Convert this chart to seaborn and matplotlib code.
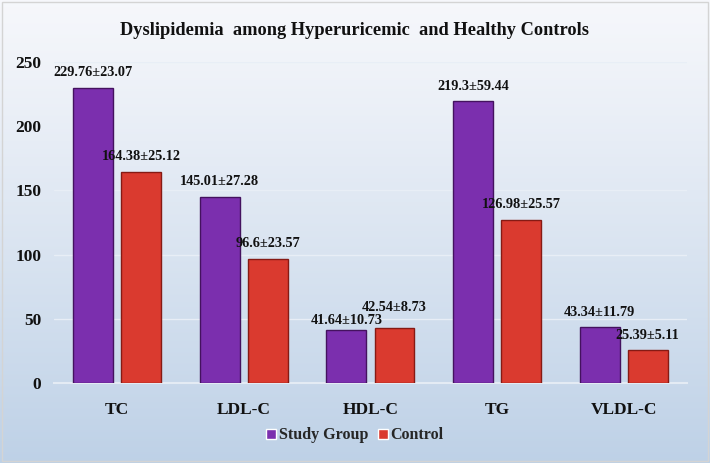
import numpy as np
import pandas as pd
import seaborn as sns
import matplotlib.pyplot as plt
from matplotlib.patches import Rectangle

# data
categories = ['TC', 'LDL-C', 'HDL-C', 'TG', 'VLDL-C']
study_mean = [229.76, 145.01, 41.64, 219.3, 43.34]
study_sd = [23.07, 27.28, 10.73, 59.44, 11.79]
control_mean = [164.38, 96.6, 42.54, 126.98, 25.39]
control_sd = [25.12, 23.57, 8.73, 25.57, 5.11]
groups = ['Study Group', 'Control']
y_ticks = [0, 50, 100, 150, 200, 250]

df = pd.DataFrame({
    'lipid': categories * 2,
    'group': [groups[0]] * 5 + [groups[1]] * 5,
    'mean': study_mean + control_mean,
    'sd': study_sd + control_sd,
})

sns.set_style('white')
plt.rcParams['font.family'] = ['Liberation Serif', 'DejaVu Serif']
plt.rcParams['font.weight'] = 'bold'

fig = plt.figure(figsize=(7.1, 4.63), dpi=100)

# gradient background for the whole chart area
bg = fig.add_axes([0, 0, 1, 1], zorder=-10)
grad = np.linspace(0, 1, 256).reshape(-1, 1)
top_c = np.array([0.965, 0.970, 0.985])
bot_c = np.array([0.745, 0.820, 0.905])
img = top_c + (bot_c - top_c) * grad[..., None] ** 1.1
img = np.repeat(img, 4, axis=1)
bg.imshow(img, aspect='auto', extent=[0, 1, 0, 1])
bg.axis('off')
fig.patches.append(Rectangle((0.003, 0.005), 0.994, 0.99, transform=fig.transFigure,
                             fill=False, edgecolor='#d4d4d4', linewidth=1.0))

ax = fig.add_axes([0.076, 0.1728, 0.8916, 0.6934])
ax.set_facecolor('none')

sns.barplot(data=df, x='lipid', y='mean', hue='group', hue_order=groups,
            palette=['#7b2fae', '#da3a2f'], saturation=1, width=0.76, gap=0.17,
            ax=ax, zorder=3)

# darker rims to hint at the bevelled bars
for cont, rim in zip(ax.containers, ['#44125f', '#861a14']):
    for bar in cont:
        bar.set_edgecolor(rim)
        bar.set_linewidth(1.0)

# value labels: "mean±sd" above each bar
extra_lift = {(0, 2): -6, (1, 2): 6}
for gi, (cont, means, sds) in enumerate(zip(ax.containers, [study_mean, control_mean],
                                             [study_sd, control_sd])):
    for ci, bar in enumerate(cont):
        lift = 15 + extra_lift.get((gi, ci), 0)
        ax.annotate(f'{means[ci]}±{sds[ci]}',
                    (bar.get_x() + bar.get_width() / 2, bar.get_height()),
                    xytext=(0, lift * 0.72), textcoords='offset points',
                    ha='center', va='center', fontsize=10.3, fontweight='bold',
                    color='#111111', zorder=5)

ax.set_ylim(0, 250)
ax.set_xlim(-0.5, 4.5)
ax.set_yticks(y_ticks)
ax.yaxis.grid(True, color='#e8eef6', linewidth=1.0, zorder=0)
ax.set_axisbelow(True)
for s in ['top', 'right', 'left']:
    ax.spines[s].set_visible(False)
ax.spines['bottom'].set_color('#e4ebf4')
ax.spines['bottom'].set_linewidth(1.5)
ax.tick_params(axis='both', length=0)
ax.tick_params(axis='y', pad=9, labelsize=12.5)
ax.tick_params(axis='x', pad=14, labelsize=12.5)
for t in ax.get_xticklabels() + ax.get_yticklabels():
    t.set_fontweight('bold')
    t.set_color('#111111')
ax.set_xlabel('')
ax.set_ylabel('')

handles, labels = ax.get_legend_handles_labels()
ax.get_legend().remove()
fig.legend(handles, labels, loc='center', bbox_to_anchor=(0.5, 0.06), ncol=2,
           frameon=False, handlelength=0.6, handleheight=0.6, handletextpad=0.2,
           columnspacing=0.6, prop={'size': 11.5, 'weight': 'bold'})

fig.text(0.5, 0.935, 'Dyslipidemia  among Hyperuricemic  and Healthy Controls',
         ha='center', va='center', fontsize=13.2, fontweight='bold', color='#111111')

fig.savefig('out.png', dpi=100)
